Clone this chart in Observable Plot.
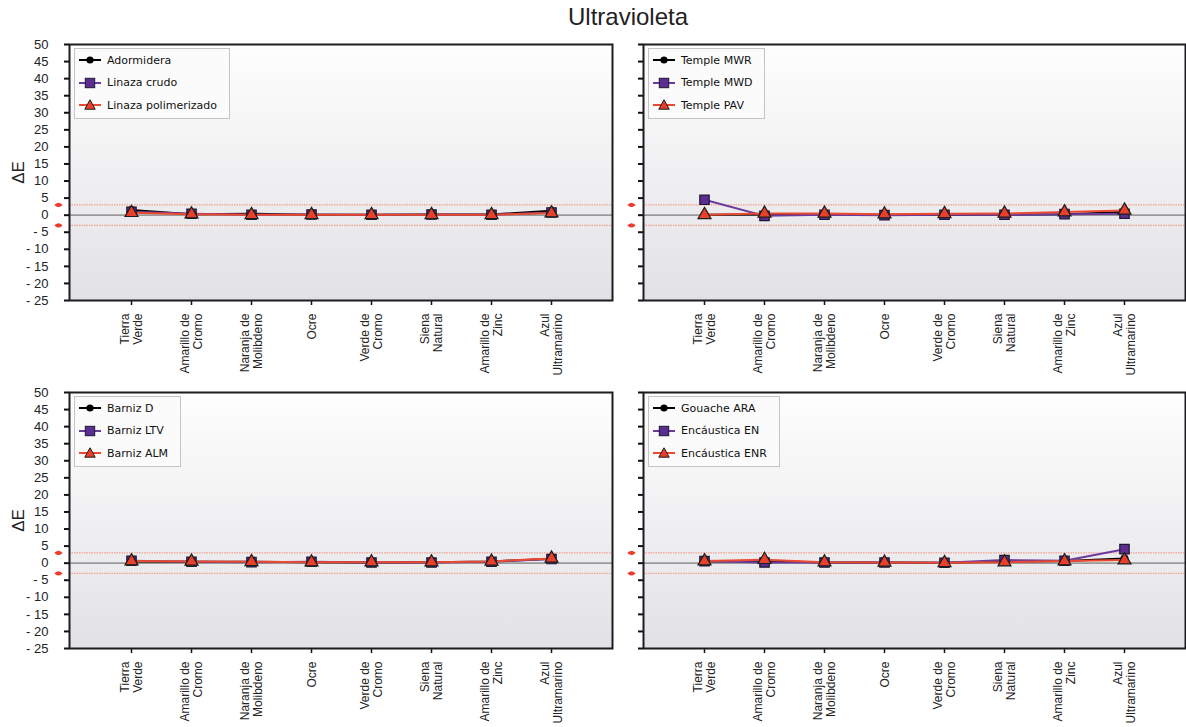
<!DOCTYPE html>
<html><head><meta charset="utf-8">
<script src="https://cdn.jsdelivr.net/npm/d3@7"></script>
<script src="https://cdn.jsdelivr.net/npm/@observablehq/plot@0.6"></script>
<style>
body{margin:0;background:#fff;font-family:"Liberation Sans",Arial,sans-serif;}
#wrap{position:relative;width:1186px;height:727px;overflow:hidden;background:#fff;}
.title{position:absolute;left:0;width:1256px;top:3px;text-align:center;font-size:24px;color:#222;}
.panel{position:absolute;}
.legend{position:absolute;background:#fbfbfb;border:1px solid #c4c4c4;padding:0px 12px 1px 4px;font-family:"DejaVu Sans",sans-serif;font-size:11px;color:#111;}
.row{display:flex;align-items:center;height:22.5px;white-space:nowrap;}
.row svg{margin-right:6px;display:block}
</style></head>
<body>
<div id="wrap"><div class="title">Ultravioleta</div></div>
<script>
// ---- data ----
const categories = ["Tierra\nVerde","Amarillo de\nCromo","Naranja de\nMolibdeno","Ocre","Verde de\nCromo","Siena\nNatural","Amarillo de\nZinc","Azul\nUltramarino"];
const yTicks = [-25,-20,-15,-10,-5,0,5,10,15,20,25,30,35,40,45,50];
const thresholds = [3, -3];

const names1 = ["Adormidera","Linaza crudo","Linaza polimerizado"];
const adormidera        = [1.5, 0.3, 0.4, 0.1, 0.1, 0.2, 0.2, 1.3];
const linazaCrudo       = [1.0, 0.4, 0.1, 0.2, 0.1, 0.2, 0.1, 0.8];
const linazaPolimerizado= [0.7, 0.3, 0.1, 0.1, 0.1, 0.1, 0.1, 0.6];

const names2 = ["Temple MWR","Temple MWD","Temple PAV"];
const templeMWR = [0.1, 0.2, 0.3, 0.1, 0.1, 0.2, 0.3, 0.9];
const templeMWD = [4.5,-0.2, 0.1, 0.0, 0.1, 0.1, 0.3, 0.4];
const templePAV = [0.1, 0.5, 0.5, 0.3, 0.4, 0.5, 0.9, 1.4];

const names3 = ["Barniz D","Barniz LTV","Barniz ALM"];
const barnizD   = [0.5, 0.4, 0.4, 0.3, 0.2, 0.3, 0.5, 1.3];
const barnizLTV = [0.7, 0.4, 0.3, 0.4, 0.2, 0.2, 0.4, 1.2];
const barnizALM = [0.6, 0.5, 0.4, 0.3, 0.3, 0.3, 0.5, 1.4];

const names4 = ["Gouache ARA","Encáustica EN","Encáustica ENR"];
const gouacheARA    = [0.5, 0.6, 0.2, 0.2, 0.1, 0.5, 0.6, 1.4];
const encausticaEN  = [0.6, 0.2, 0.2, 0.2, 0.1, 0.9, 0.7, 4.1];
const encausticaENR = [0.6, 1.0, 0.3, 0.2, 0.1, 0.3, 0.6, 0.9];

// ---- styling ----
const styles = [
  {line:"#000000", fill:"#000000", stroke:"#000000", symbol:"circle", r:3.4},
  {line:"#6a3a9e", fill:"#5c2d91", stroke:"#1c1830", symbol:"square", r:5.3},
  {line:"#ec4a30", fill:"#e8402a", stroke:"#1c1c1c", symbol:"triangle", r:4.8}
];
const eye = {draw(ctx, size){ const r = Math.sqrt(size/Math.PI);
  ctx.moveTo(-r,0); ctx.quadraticCurveTo(0,-r*0.9,r,0); ctx.quadraticCurveTo(0,r*0.9,-r,0); ctx.closePath(); }};

const panels = [
  {names:names1, values:[adormidera, linazaCrudo, linazaPolimerizado], left:0,   top:30,  showY:true},
  {names:names2, values:[templeMWR, templeMWD, templePAV],             left:615, top:30,  showY:false},
  {names:names3, values:[barnizD, barnizLTV, barnizALM],               left:0,   top:378, showY:true},
  {names:names4, values:[gouacheARA, encausticaEN, encausticaENR],     left:615, top:378, showY:false}
];

const wrap = document.getElementById("wrap");
const fmt = d => d < 0 ? "- " + Math.abs(d) : String(d);

panels.forEach((p, pi) => {
  const gid = "bg" + pi;
  const marks = [
    Plot.frame({fill:`url(#${gid})`}),
    Plot.ruleY(thresholds, {stroke:"#f4a08f", strokeWidth:1.2, strokeDasharray:"1.5,1"}),
    Plot.ruleY([0], {stroke:"#9a9a9a", strokeWidth:1.6})
  ];
  p.values.forEach((vals, si) => {
    const data = vals.map((v,i) => ({cat:categories[i], v}));
    marks.push(Plot.line(data, {x:"cat", y:"v", stroke:styles[si].line, strokeWidth:2}));
  });
  p.values.forEach((vals, si) => {
    const s = styles[si];
    const data = vals.map((v,i) => ({cat:categories[i], v}));
    marks.push(Plot.dot(data, {x:"cat", y:"v", symbol:s.symbol, r:s.r, fill:s.fill, stroke:s.stroke, strokeWidth:1.2}));
  });
  const eyeDx = p.showY ? -11 : -12;
  marks.push(
    Plot.dot(thresholds, {y:d=>d, frameAnchor:"left", dx:eyeDx, symbol:eye, r:2.9, fill:"#fff", stroke:"#ee3b2b", strokeWidth:1.6}),
    Plot.dot(thresholds, {y:d=>d, frameAnchor:"left", dx:eyeDx, r:1.5, fill:"#ee3b2b"}),
    Plot.axisY({ticks:yTicks, tickSize:5, tickPadding:p.showY ? 16 : 3, tickFormat: p.showY ? fmt : () => "",
      label:null, fontSize:13, stroke:"#111", strokeWidth:2}),
    Plot.axisX({tickSize:5, tickPadding:8, tickRotate:-90, label:null, fontSize:12, lineHeight:1.08, stroke:"#111", strokeWidth:1.5}),
    Plot.frame({stroke:"#1c1c22", strokeWidth:2})
  );
  if (p.showY) marks.push(Plot.axisY({ticks:[], tickSize:0, label:"ΔE", labelAnchor:"center", labelArrow:"none", labelOffset:58, fontSize:17}));
  const svg = Plot.plot({
    width: p.showY ? 615 : 571,
    height: 360,
    marginLeft: p.showY ? 69 : 28,
    marginRight: p.showY ? 3 : 1,
    marginTop: 14,
    marginBottom: 90,
    style:{fontFamily:"'Liberation Sans', Arial, sans-serif", fontSize:"12px", color:"#222", background:"transparent", overflow:"visible"},
    x:{type:"point", domain:categories, padding:1},
    y:{domain:[-25,50]},
    marks
  });
  svg.insertAdjacentHTML("afterbegin",
    `<defs><linearGradient id="${gid}" x1="0" y1="0" x2="0" y2="1"><stop offset="0" stop-color="#fefefe"/><stop offset="1" stop-color="#e2e2e6"/></linearGradient></defs>`);
  const holder = document.createElement("div");
  holder.className = "panel";
  holder.style.left = p.left + "px";
  holder.style.top = p.top + "px";
  holder.appendChild(svg);
  wrap.appendChild(holder);

  // legend
  const leg = document.createElement("div");
  leg.className = "legend";
  leg.style.left = (p.showY ? 74 : 648) + "px";
  leg.style.top = (p.top + 18) + "px";
  p.names.forEach((n, si) => {
    const s = styles[si];
    let m;
    if (s.symbol === "circle") m = `<circle cx="11" cy="7" r="3.6" fill="#000"/>`;
    else if (s.symbol === "square") m = `<rect x="6.3" y="2.3" width="9.4" height="9.4" fill="${s.fill}" stroke="${s.stroke}" stroke-width="1"/>`;
    else m = `<path d="M11,1.8L16.2,11.2L5.8,11.2Z" fill="${s.fill}" stroke="${s.stroke}" stroke-width="1"/>`;
    const row = document.createElement("div");
    row.className = "row";
    row.innerHTML = `<svg width="22" height="14"><line x1="0" y1="7" x2="22" y2="7" stroke="${s.line}" stroke-width="2"/>${m}</svg><span>${n}</span>`;
    leg.appendChild(row);
  });
  wrap.appendChild(leg);
});
</script>
</body></html>
